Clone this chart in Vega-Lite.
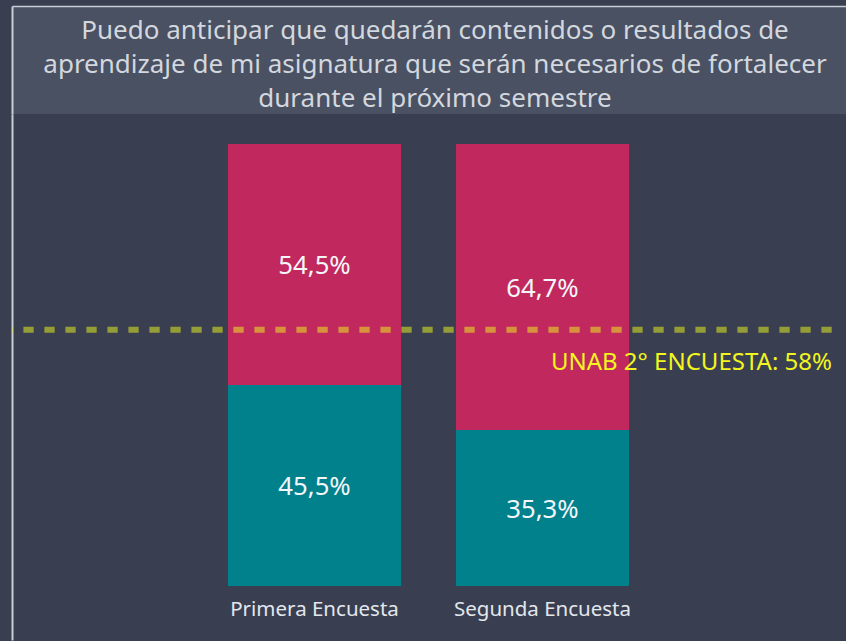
{
  "$schema": "https://vega.github.io/schema/vega-lite/v6.json",
  "background": "#393f50",
  "padding": {"left": 9, "top": 6, "right": 0, "bottom": 0},
  "spacing": 0,
  "bounds": "flush",
  "config": {
    "locale": {"number": {"decimal": ",", "thousands": ".", "grouping": [3], "currency": ["", " €"]}},
    "font": "Noto Sans",
    "view": {"stroke": null},
    "axis": {"domainColor": "#c9cdd4"}
  },
  "vconcat": [
    {
      "width": 836,
      "height": 108,
      "view": {"fill": "#4a5163", "stroke": null},
      "data": {"values": [{"titulo": "Puedo anticipar que quedarán contenidos o resultados de\naprendizaje de mi asignatura que serán necesarios de fortalecer\ndurante el próximo semestre"}]},
      "mark": {"type": "text", "lineBreak": "\n", "fontSize": 26, "lineHeight": 34, "color": "#d3d7de", "align": "center", "baseline": "middle", "dx": 5, "dy": -29},
      "encoding": {
        "text": {"field": "titulo", "type": "nominal"},
        "x": {"datum": 0.5, "type": "quantitative", "scale": {"domain": [0, 1], "nice": false, "zero": false}, "axis": {"orient": "top", "labels": false, "ticks": false, "grid": false, "title": null, "domainWidth": 1.5}},
        "y": {"datum": 0.5, "type": "quantitative", "scale": {"domain": [0, 1], "nice": false, "zero": false}, "axis": {"orient": "left", "labels": false, "ticks": false, "grid": false, "title": null, "domainWidth": 2}}
      }
    },
    {
      "width": 822,
      "height": 526,
      "layer": [
        {
          "layer": [
            {
              "data": {"values": [
                {"encuesta": "Primera Encuesta", "respuesta": "No", "valor": 0.455},
                {"encuesta": "Primera Encuesta", "respuesta": "Sí", "valor": 0.545},
                {"encuesta": "Segunda Encuesta", "respuesta": "No", "valor": 0.353},
                {"encuesta": "Segunda Encuesta", "respuesta": "Sí", "valor": 0.647}
              ]},
              "layer": [
                {
                  "mark": {"type": "bar"},
                  "encoding": {
                    "x": {"field": "encuesta", "type": "nominal", "scale": {"range": [216, 617], "paddingInner": 0.241, "paddingOuter": 0}, "axis": {"orient": "bottom", "offset": -54, "domain": false, "ticks": false, "labelFontSize": 20.5, "labelColor": "#e3e7ee", "labelPadding": 13, "labelAngle": 0, "title": null}},
                    "y": {"field": "valor", "type": "quantitative", "stack": "zero", "scale": {"domain": [0, 1], "range": [472, 30], "nice": false}, "axis": null},
                    "color": {"field": "respuesta", "type": "nominal", "scale": {"domain": ["No", "Sí"], "range": ["#00818b", "#c1285d"]}, "legend": null},
                    "order": {"field": "respuesta", "sort": "ascending"}
                  }
                },
                {
                  "transform": [
                    {"stack": "valor", "groupby": ["encuesta"], "sort": [{"field": "respuesta", "order": "ascending"}], "as": ["v0", "v1"]},
                    {"fold": ["v0", "v1"], "as": ["extremo", "v"]}
                  ],
                  "mark": {"type": "text", "fontSize": 25.7, "color": "#f4f6fa", "baseline": "middle", "dy": 2},
                  "encoding": {
                    "x": {"field": "encuesta", "type": "nominal"},
                    "y": {"aggregate": "mean", "field": "v", "type": "quantitative", "stack": null, "scale": {"domain": [0, 1], "range": [472, 30], "nice": false}, "axis": null},
                    "detail": {"field": "respuesta", "type": "nominal"},
                    "text": {"aggregate": "max", "field": "valor", "type": "quantitative", "format": ".1%"}
                  }
                }
              ]
            },
            {
              "data": {"values": [{"ref": 0.58, "etiqueta": "UNAB 2° ENCUESTA: 58%"}]},
              "layer": [
                {
                  "mark": {"type": "rule", "color": "#f2fb1c", "opacity": 0.5, "strokeWidth": 6, "strokeDash": [10.3, 10.7], "strokeDashOffset": 18.7},
                  "encoding": {
                    "y": {"field": "ref", "type": "quantitative", "scale": {"domain": [0, 1], "range": [472, 30], "nice": false}, "axis": null}
                  }
                },
                {
                  "mark": {"type": "text", "fontSize": 24, "color": "#f2f51e", "align": "right", "baseline": "middle", "dx": 289.5, "dy": 33},
                  "encoding": {
                    "x": {"datum": "Segunda Encuesta", "type": "nominal"},
                    "y": {"field": "ref", "type": "quantitative", "scale": {"domain": [0, 1], "range": [472, 30], "nice": false}, "axis": null},
                    "text": {"field": "etiqueta", "type": "nominal"}
                  }
                }
              ]
            }
          ]
        },
        {
          "data": {"values": [{"borde": 0}]},
          "mark": {"type": "point", "opacity": 0},
          "encoding": {
            "y": {"field": "borde", "type": "quantitative", "scale": {"domain": [0, 1], "nice": false}, "axis": {"orient": "left", "labels": false, "ticks": false, "grid": false, "title": null, "domainWidth": 2}}
          }
        }
      ],
      "resolve": {"scale": {"y": "independent"}, "axis": {"y": "independent"}}
    }
  ]
}
